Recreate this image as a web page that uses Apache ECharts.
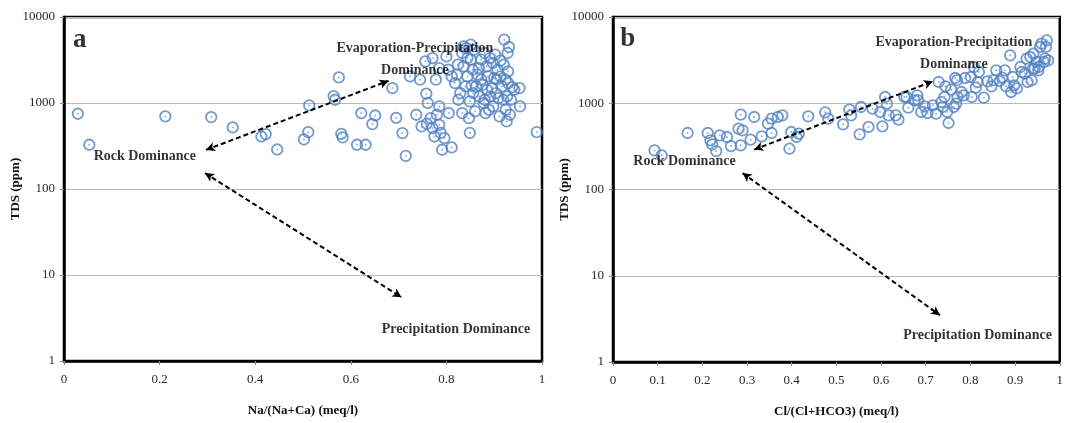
<!DOCTYPE html>
<html>
<head>
<meta charset="utf-8">
<title>Gibbs diagrams</title>
<script src="https://cdn.jsdelivr.net/npm/echarts@6/dist/echarts.min.js"></script>
<style>
  html, body { margin: 0; padding: 0; background: #fff; }
  #chart { width: 1066px; height: 423px; }
</style>
</head>
<body>
<div id="chart"></div>
<script>
// Panel a: Na/(Na+Ca) ratio against TDS (ppm)
const naRatio = [
  0.029, 0.053, 0.212, 0.308, 0.353, 0.413, 0.422, 0.446, 0.502, 0.511,
  0.513, 0.564, 0.567, 0.575, 0.580, 0.583, 0.613, 0.622, 0.631, 0.645,
  0.651, 0.687, 0.695, 0.708, 0.715, 0.724, 0.737, 0.745, 0.748, 0.756,
  0.758, 0.761, 0.759, 0.767, 0.771, 0.771, 0.775, 0.778, 0.780, 0.785,
  0.785, 0.788, 0.791, 0.796, 0.805, 0.811, 0.785, 0.804, 0.818, 0.824,
  0.829, 0.833, 0.836, 0.842, 0.847, 0.849, 0.851, 0.851, 0.853, 0.849,
  0.844, 0.865, 0.860, 0.868, 0.873, 0.876, 0.880, 0.882, 0.887, 0.891,
  0.892, 0.895, 0.898, 0.902, 0.907, 0.909, 0.911, 0.913, 0.916, 0.921,
  0.924, 0.926, 0.929, 0.931, 0.928, 0.933, 0.938, 0.953, 0.954, 0.989,
  0.822, 0.825, 0.836, 0.840, 0.844, 0.855, 0.856, 0.862, 0.869, 0.873,
  0.878, 0.884, 0.885, 0.889, 0.897, 0.900, 0.904, 0.905, 0.913, 0.919,
  0.920, 0.924, 0.927, 0.929, 0.935, 0.942, 0.833, 0.858, 0.880, 0.811,
  0.800
];
const tdsA = [
  750, 327, 698, 686, 520, 408, 435, 288, 377, 458,
  937, 1205, 1091, 1985, 438, 398, 327, 764, 327, 569,
  716, 1492, 673, 447, 243, 2039, 730, 1865, 534, 3048,
  1282, 1000, 574, 667, 3333, 511, 408, 1865, 730, 912,
  558, 450, 286, 391, 764, 304, 2548, 2437, 1706, 2787,
  1304, 764, 4560, 4357, 667, 450, 4764, 3187, 1588, 1043,
  2039, 2132, 798, 2548, 3187, 1629, 1091, 764, 2039, 3333,
  1194, 1492, 912, 3646, 2437, 1140, 698, 3105, 1560, 5447,
  834, 611, 2332, 4477, 3812, 730, 1531, 1492, 912, 458,
  2132, 1091, 2667, 1560, 3333, 2437, 1304, 1560, 1194, 1865,
  1000, 2667, 1426, 834, 2917, 1950, 1304, 1865, 2039, 1091,
  2787, 1865, 1194, 1706, 1091, 1426, 3812, 4169, 3812, 2039,
  3483
];

// Panel b: Cl/(Cl+HCO3) ratio against TDS (ppm)
const clRatio = [
  0.093, 0.109, 0.167, 0.212, 0.218, 0.222, 0.231, 0.239, 0.255, 0.264,
  0.281, 0.286, 0.286, 0.290, 0.308, 0.316, 0.333, 0.347, 0.355, 0.355,
  0.369, 0.379, 0.395, 0.399, 0.411, 0.416, 0.437, 0.475, 0.482, 0.515,
  0.529, 0.533, 0.552, 0.555, 0.572, 0.581, 0.598, 0.603, 0.609, 0.613,
  0.617, 0.633, 0.639, 0.652, 0.661, 0.675, 0.681, 0.690, 0.698, 0.704,
  0.716, 0.723, 0.729, 0.735, 0.742, 0.744, 0.748, 0.751, 0.757, 0.763,
  0.766, 0.771, 0.780, 0.788, 0.785, 0.801, 0.803, 0.812, 0.819, 0.830,
  0.838, 0.847, 0.858, 0.866, 0.877, 0.880, 0.889, 0.891, 0.895, 0.898,
  0.912, 0.915, 0.928, 0.934, 0.937, 0.940, 0.941, 0.948, 0.952, 0.956,
  0.959, 0.965, 0.967, 0.969, 0.971, 0.974, 0.922, 0.926, 0.944, 0.953,
  0.852, 0.871, 0.904, 0.808, 0.770, 0.816, 0.768, 0.738, 0.683, 0.657
];
const tdsB = [
  284, 249, 452, 452, 372, 334, 279, 425, 406, 319,
  507, 738, 325, 485, 378, 693, 413, 580, 662, 452,
  693, 724, 297, 464, 406, 444, 705, 785, 662, 570,
  843, 724, 436, 905, 531, 865, 792, 540, 1181, 989,
  724, 724, 646, 1181, 889, 1081, 1236, 792, 921, 771,
  946, 757, 1763, 1033, 1181, 1571, 792, 590, 1437, 905,
  1963, 1181, 1350, 1963, 1236, 2014, 1181, 1516, 2303, 1161,
  1796, 1571, 2409, 1810, 2409, 1571, 3594, 1350, 2014, 1615,
  2633, 2303, 1763, 3436, 1838, 2518, 3758, 3006, 2409, 4487,
  4909, 3006, 3289, 4487, 5360, 3145, 2208, 3289, 2518, 2633,
  1850, 1980, 1485, 2633, 1850, 1763, 989, 905, 1081, 1181
];

// Axis ticks and titles
const yTicks = [1, 10, 100, 1000, 10000];
const xTitleA = 'Na/(Na+Ca) (meq/l)';
const xTitleB = 'Cl/(Cl+HCO3) (meq/l)';
const yTitle = 'TDS (ppm)';

// Annotation texts and anchors (x ratio, TDS)
const panelLetters = [['a', 0.033, 5400], ['b', 0.033, 5500]];
const labelsA = [
  ['Evaporation-Precipitation\nDominance', 0.734, 3250],
  ['Rock Dominance', 0.169, 242],
  ['Precipitation Dominance', 0.820, 2.36]
];
const labelsB = [
  ['Evaporation-Precipitation\nDominance', 0.763, 3765],
  ['Rock Dominance', 0.160, 212],
  ['Precipitation Dominance', 0.816, 2.01]
];
// Trend arrows: [x1, y1, x2, y2]
const arrowsA = [[0.297, 285, 0.679, 1810], [0.295, 153, 0.706, 5.5]];
const arrowsB = [[0.316, 290, 0.716, 1795], [0.290, 155, 0.732, 3.48]];

const serif = '"Liberation Serif", "DejaVu Serif", serif';
const markerBlue = '#4f81c4';

function zip(xs, ys) { return xs.map((x, i) => [x, ys[i]]); }

function xAxis(gridIndex, interval, title) {
  return {
    gridIndex, type: 'value', min: 0, max: 1, interval,
    axisLine: { show: true, onZero: false, lineStyle: { color: '#000', width: 2.5 } },
    axisTick: { show: true, length: 4, lineStyle: { color: '#888' } },
    splitLine: { show: false },
    axisLabel: {
      fontFamily: serif, fontSize: 13, color: '#2a2a2a', margin: 12,
      showMinLabel: true, showMaxLabel: true,
      formatter: v => String(+v.toFixed(1))
    },
    name: title, nameLocation: 'middle', nameGap: 43, nameMoveOverlap: false,
    nameTextStyle: { fontFamily: serif, fontSize: 13, fontWeight: 'bold', color: '#111' }
  };
}

function yAxis(gridIndex) {
  return {
    gridIndex, type: 'log', logBase: 10, min: yTicks[0], max: yTicks[yTicks.length - 1],
    axisLine: { show: true, lineStyle: { color: '#000', width: 2.5 } },
    axisTick: { show: true, length: 4, lineStyle: { color: '#888' } },
    splitLine: { show: true, lineStyle: { color: '#b8b8b8', width: 1 } },
    axisLabel: {
      fontFamily: serif, fontSize: 13, color: '#2a2a2a', margin: 9,
      showMinLabel: true, showMaxLabel: true,
      formatter: v => String(Math.round(v))
    },
    name: yTitle, nameLocation: 'middle', nameGap: 42, nameRotate: 90, nameMoveOverlap: false,
    nameTextStyle: { fontFamily: serif, fontSize: 13, fontWeight: 'bold', color: '#111' }
  };
}

function samples(idx, xs, ys) {
  const data = zip(xs, ys);
  return [
    {
      type: 'scatter', xAxisIndex: idx, yAxisIndex: idx, data,
      symbol: 'circle', symbolSize: 10.5, silent: true, z: 3,
      itemStyle: { color: 'rgba(255,255,255,0)', borderColor: markerBlue, borderWidth: 1.8 }
    },
    {
      type: 'scatter', xAxisIndex: idx, yAxisIndex: idx, data,
      symbol: 'circle', symbolSize: 2, silent: true, z: 3,
      itemStyle: { color: '#7d9ccc' }
    }
  ];
}

function annotations(idx, labels, arrows, letter) {
  const data = labels.map(([text, x, y]) => ({
    value: [x, y],
    label: { formatter: text }
  }));
  data.push({
    value: [letter[1], letter[2]],
    label: { formatter: letter[0], fontSize: 27 }
  });
  return {
    type: 'scatter', xAxisIndex: idx, yAxisIndex: idx, data,
    symbolSize: 0, silent: true, z: 5,
    label: {
      show: true, position: 'inside', fontFamily: serif, fontSize: 14,
      fontWeight: 'bold', color: '#000', lineHeight: 22, align: 'center'
    },
    markLine: {
      silent: true, symbol: ['arrow', 'arrow'], symbolSize: [7, 9],
      label: { show: false },
      lineStyle: { color: '#000', type: [5, 3], width: 2 },
      data: arrows.map(([x1, y1, x2, y2]) => [{ coord: [x1, y1] }, { coord: [x2, y2] }])
    }
  };
}

const chart = echarts.init(document.getElementById('chart'), null, { renderer: 'canvas' });
chart.setOption({
  animation: false,
  backgroundColor: '#fff',
  grid: [
    { left: 64, top: 17, width: 478, height: 344, show: true, borderColor: '#000', borderWidth: 2.5, containLabel: false },
    { left: 613, top: 17, width: 451, height: 345, show: true, borderColor: '#000', borderWidth: 2.5, containLabel: false }
  ],
  xAxis: [xAxis(0, 0.2, xTitleA), xAxis(1, 0.1, xTitleB)],
  yAxis: [yAxis(0), yAxis(1)],
  series: [
    ...samples(0, naRatio, tdsA),
    ...samples(1, clRatio, tdsB),
    annotations(0, labelsA, arrowsA, panelLetters[0]),
    annotations(1, labelsB, arrowsB, panelLetters[1])
  ]
});
</script>
</body>
</html>
